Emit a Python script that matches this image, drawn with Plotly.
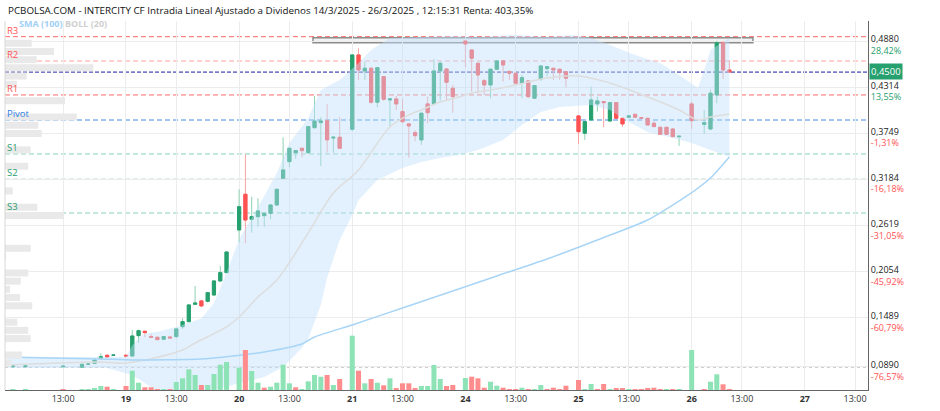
import plotly.graph_objects as go

# ---------------- data ----------------
# x = half-hour slot index (18 slots per session, 19/3 09:00 = 0)
cx = [-18, -16, -10, -7, -6, -5, -4, -3, -2,
      0, 1, 2, 3, 4, 5, 6, 7, 8, 9, 10, 11, 12, 13, 14, 15, 16,
      18, 19, 20, 21, 22, 23, 24, 25, 26, 27, 28, 29, 30, 31, 32, 33, 34,
      36, 37, 38, 39, 40, 41, 42, 43, 44, 45, 46, 47, 48, 49, 50, 51, 52,
      54, 55, 56, 57, 58, 59, 60, 61, 62, 63, 64, 65, 66, 67, 68, 69, 70,
      72, 73, 74, 75, 76, 77, 78, 79, 80, 81, 82, 83, 84, 85, 86, 87, 88,
      90, 92, 93, 94, 95, 96]

opens = [0.0890, 0.0890, 0.0890, 0.0884, 0.0920, 0.0932, 0.0989, 0.1030, 0.1031,
         0.1031, 0.1022, 0.1271, 0.1325, 0.1259, 0.1251, 0.1227, 0.1255, 0.1259, 0.1381, 0.1442, 0.1655, 0.1696, 0.1692, 0.1769, 0.1941, 0.2043,
         0.2566, 0.3003, 0.2697, 0.2729, 0.2741, 0.2770, 0.2872, 0.3199, 0.3403, 0.3513, 0.3567, 0.3513, 0.3819, 0.3881, 0.3905, 0.3692, 0.3702,
         0.3800, 0.4710, 0.4514, 0.4547, 0.4131, 0.4444, 0.4159, 0.4171, 0.4016, 0.3865, 0.3758, 0.3669, 0.4110, 0.4110, 0.4514, 0.4538, 0.4302,
         0.4880, 0.4771, 0.4608, 0.4395, 0.4343, 0.4535, 0.4637, 0.4509, 0.4486, 0.4363, 0.4392, 0.4180, 0.4416, 0.4543, 0.4547, 0.4535, 0.4505,
         0.3963, 0.3751, 0.3914, 0.4110, 0.4139, 0.3901, 0.4126, 0.3934, 0.3947, 0.3983, 0.3943, 0.3934, 0.3873, 0.3824, 0.3824, 0.3803, 0.3709,
         0.4110, 0.3860, 0.3803, 0.4220, 0.4861, 0.4526]
highs = [0.0905, 0.0905, 0.0900, 0.0925, 0.0930, 0.0975, 0.1055, 0.1045, 0.1034,
         0.1035, 0.1341, 0.1345, 0.1330, 0.1292, 0.1255, 0.1262, 0.1260, 0.1357, 0.1484, 0.1652, 0.1880, 0.1710, 0.1800, 0.1945, 0.2125, 0.2300,
         0.3064, 0.3493, 0.2974, 0.2954, 0.2782, 0.2875, 0.3068, 0.3701, 0.3570, 0.3540, 0.3570, 0.3840, 0.4208, 0.3947, 0.4106, 0.3710, 0.3947,
         0.4720, 0.4792, 0.4628, 0.4560, 0.4560, 0.4450, 0.4175, 0.4208, 0.4167, 0.3870, 0.3788, 0.4003, 0.4200, 0.4658, 0.4628, 0.4545, 0.4343,
         0.4880, 0.4780, 0.4615, 0.4416, 0.4545, 0.4645, 0.4650, 0.4515, 0.4490, 0.4465, 0.4400, 0.4340, 0.4580, 0.4570, 0.4550, 0.4540, 0.4510,
         0.3970, 0.3900, 0.4322, 0.4200, 0.4145, 0.4130, 0.4130, 0.3940, 0.3968, 0.3985, 0.3945, 0.3936, 0.3900, 0.3826, 0.3826, 0.3815, 0.3716,
         0.4138, 0.4036, 0.4285, 0.4880, 0.4880, 0.4640]
lows = [0.0885, 0.0885, 0.0885, 0.0880, 0.0915, 0.0930, 0.0985, 0.0997, 0.1029,
        0.1020, 0.1018, 0.1185, 0.1251, 0.1245, 0.1215, 0.1222, 0.1240, 0.1247, 0.1353, 0.1438, 0.1647, 0.1620, 0.1680, 0.1765, 0.1935, 0.2040,
        0.2415, 0.2403, 0.2533, 0.2606, 0.2606, 0.2697, 0.2865, 0.3190, 0.3334, 0.3440, 0.3457, 0.3500, 0.3810, 0.3350, 0.3513, 0.3513, 0.3560,
        0.3780, 0.4404, 0.4404, 0.4110, 0.4069, 0.4150, 0.3840, 0.4036, 0.3873, 0.3452, 0.3654, 0.3608, 0.3873, 0.4100, 0.4150, 0.4150, 0.4003,
        0.4560, 0.4261, 0.4241, 0.4220, 0.4180, 0.4530, 0.4383, 0.4404, 0.4363, 0.4180, 0.4180, 0.4175, 0.4392, 0.4445, 0.4404, 0.4404, 0.4314,
        0.3616, 0.3669, 0.3905, 0.4016, 0.3824, 0.3895, 0.3930, 0.3828, 0.3945, 0.3945, 0.3930, 0.3850, 0.3830, 0.3736, 0.3736, 0.3705, 0.3595,
        0.3803, 0.3742, 0.3790, 0.4118, 0.4416, 0.4490]
closes = [0.0900, 0.0900, 0.0897, 0.0920, 0.0922, 0.0973, 0.1013, 0.1010, 0.1033,
          0.1022, 0.1267, 0.1332, 0.1308, 0.1251, 0.1222, 0.1259, 0.1243, 0.1353, 0.1442, 0.1647, 0.1671, 0.1635, 0.1798, 0.1941, 0.2043, 0.2296,
          0.2851, 0.2688, 0.2729, 0.2799, 0.2770, 0.2872, 0.3064, 0.3301, 0.3567, 0.3538, 0.3538, 0.3832, 0.3901, 0.3901, 0.3670, 0.3702, 0.3567,
          0.4710, 0.4526, 0.4547, 0.4131, 0.4555, 0.4167, 0.4171, 0.4110, 0.3893, 0.3840, 0.3721, 0.3996, 0.4003, 0.4514, 0.4608, 0.4376, 0.4199,
          0.4845, 0.4670, 0.4465, 0.4343, 0.4535, 0.4637, 0.4588, 0.4486, 0.4363, 0.4432, 0.4199, 0.4334, 0.4575, 0.4567, 0.4526, 0.4493, 0.4425,
          0.3770, 0.3893, 0.4159, 0.4147, 0.4126, 0.4126, 0.3934, 0.3865, 0.3963, 0.3947, 0.3934, 0.3852, 0.3832, 0.3738, 0.3738, 0.3709, 0.3714,
          0.3905, 0.3880, 0.4241, 0.4861, 0.4526, 0.4500]
volumes = [1000, 1000, 500, 1000, 500, 1700, 4000, 3300, 1000,
           4000, 19300, 7300, 2700, 2700, 1000, 1000, 1000, 8000, 11700, 20700, 15000, 5000, 5000, 16000, 25300, 28000,
           22300, 40000, 19000, 7300, 2300, 3300, 7300, 25300, 6700, 2700, 1000, 8700, 15000, 13300, 15000, 5000, 11000,
           54300, 19300, 6700, 11000, 7300, 4700, 11700, 1700, 6700, 6700, 1700, 4000, 4000, 25000, 11000, 4000, 5000,
           12000, 13300, 11700, 2300, 8300, 4300, 2300, 1000, 1000, 2300, 1000, 1000, 5000, 1000, 2300, 1000, 4300,
           10000, 1000, 6000, 1000, 6000, 1000, 1500, 1500, 1000, 1000, 1000, 1500, 2300, 1000, 1000, 1000, 1000,
           40000, 1000, 8300, 15700, 5700, 1000]

# Bollinger (20) and SMA (100)
ub_x = [-19, -10, -2, 0, 1, 2, 3, 5, 8, 12, 14, 16, 18, 21, 24, 26, 29, 31, 34, 37,
        39, 42, 47, 52, 56, 62, 67, 71, 74, 77, 81, 85, 88, 91, 92, 93, 96]
ub = [0.1010, 0.1010, 0.1010, 0.1010, 0.1150, 0.1240, 0.1300, 0.1320, 0.1377, 0.1480,
      0.1671, 0.2039, 0.2455, 0.2845, 0.3264, 0.3632, 0.3938, 0.4281, 0.4404, 0.4612,
      0.4771, 0.4918, 0.4931, 0.4943, 0.4931, 0.4955, 0.4931, 0.4955, 0.4918, 0.4833,
      0.4710, 0.4612, 0.4465, 0.4306, 0.4526, 0.4771, 0.4918]
lb_x = [-19, -3, 1, 3, 5, 8, 12, 17, 22, 25, 28, 29, 31, 32, 34, 36, 37, 40, 44, 47,
        50, 53, 56, 60, 63, 66, 69, 74, 77, 80, 83, 87, 90, 93, 96]
lb = [0.0875, 0.0875, 0.0789, 0.0691, 0.0580, 0.0544, 0.0569, 0.0667, 0.0765, 0.0887,
      0.1120, 0.1230, 0.1647, 0.1980, 0.2443, 0.2750, 0.2933, 0.3179, 0.3326, 0.3399,
      0.3448, 0.3485, 0.3546, 0.3669, 0.3852, 0.4012, 0.4073, 0.4097, 0.4036, 0.3889,
      0.3767, 0.3693, 0.3632, 0.3546, 0.3460]
mb_x = [-19, -4, 0, 9, 11, 16, 18, 21, 24, 29, 33, 37, 42, 45, 47, 50, 53, 55, 58, 62,
        67, 72, 77, 83, 88, 91, 93, 96]
mb = [0.0912, 0.0948, 0.0936, 0.1095, 0.1181, 0.1377, 0.1500, 0.1745, 0.1953, 0.2529,
      0.3019, 0.3301, 0.3828, 0.3975, 0.4036, 0.4134, 0.4195, 0.4245, 0.4281, 0.4342,
      0.4428, 0.4453, 0.4367, 0.4195, 0.4036, 0.3914, 0.3950, 0.3987]
sma_x = [-19, -12, -4, 1, 12, 17, 22, 28, 30, 36, 44, 52, 59, 67, 75, 83, 89, 93, 96]
sma = [0.1010, 0.0997, 0.0985, 0.0973, 0.0985, 0.1022, 0.1071, 0.1169, 0.1255, 0.1402,
       0.1610, 0.1818, 0.2002, 0.2210, 0.2443, 0.2688, 0.2970, 0.3203, 0.3460]

# volume profile by price
vp_price = [0.4853, 0.4753, 0.4652, 0.4552, 0.4451, 0.4351, 0.4250, 0.4150, 0.4049, 0.3949,
            0.3848, 0.3748, 0.3647, 0.3547, 0.3446, 0.3346, 0.3245, 0.3145, 0.3044, 0.2944,
            0.2843, 0.2743, 0.2642, 0.2542, 0.2441, 0.2341, 0.2240, 0.2140, 0.2039, 0.1939,
            0.1838, 0.1738, 0.1637, 0.1537, 0.1436, 0.1336, 0.1235, 0.1135, 0.1034, 0.0934]
vp_vol = [26.7, 49, 31.7, 88.3, 21.7, 12, 0, 60, 0, 71.7,
          33.3, 36.7, 0, 25.7, 0, 23.3, 0, 0, 7.7, 0,
          32.3, 58.3, 0, 0, 0, 25.7, 1, 0, 23.3, 15.7,
          5, 15, 27.3, 0, 12.3, 23.3, 25.7, 0, 17, 6.7]

# pivot levels
levels = {"R3": 0.4934, "R2": 0.4636, "R1": 0.4220, "Pivot": 0.3913,
          "S1": 0.3497, "S2": 0.3186, "S3": 0.2774}
last_price = 0.4500
min_price = 0.0890
box_x = [29.75, 99.75]
box_y = [0.4861, 0.4922]

ytick_vals = [0.4880, 0.4314, 0.3749, 0.3184, 0.2619, 0.2054, 0.1489, 0.0890]
ytick_price = ["0,4880", "0,4314", "0,3749", "0,3184", "0,2619", "0,2054", "0,1489", "0,0890"]
ytick_pct = ["28,42%", "13,55%", "-1,31%", "-16,18%", "-31,05%", "-45,92%", "-60,79%", "-76,57%"]

xtick_vals = [-10, 0, 8, 18, 26, 36, 44, 54, 62, 72, 80, 90, 98, 108, 116]
xtick_text = ["13:00", "<b>19</b>", "13:00", "<b>20</b>", "13:00", "<b>21</b>", "13:00", "<b>24</b>",
              "13:00", "<b>25</b>", "13:00", "<b>26</b>", "13:00", "<b>27</b>", "13:00"]

title = "PCBOLSA.COM - INTERCITY CF Intradia Lineal Ajustado a Dividenos 14/3/2025 - 26/3/2025 , 12:15:31 Renta: 403,35%"

# ---------------- styles ----------------
GREEN = "#26a06e"
RED = "#ff5252"
FONT = "Open Sans"

fig = go.Figure()

fig.add_trace(go.Bar(x=vp_vol, y=vp_price, orientation="h", width=0.0086,
                     xaxis="x2", yaxis="y", marker=dict(color="#e9e9e9", line=dict(width=0)),
                     hoverinfo="skip"))

fig.add_trace(go.Scatter(x=ub_x + lb_x[::-1], y=ub + lb[::-1], fill="toself",
                         fillcolor="rgba(190,224,250,0.45)", mode="lines",
                         line=dict(width=0), hoverinfo="skip"))
fig.add_trace(go.Scatter(x=mb_x, y=mb, mode="lines", line=dict(color="#dddddd", width=1.5),
                         line_shape="spline", hoverinfo="skip"))
fig.add_trace(go.Scatter(x=sma_x, y=sma, mode="lines", line=dict(color="#a8d5f7", width=1.5),
                         line_shape="spline", line_smoothing=0.6, hoverinfo="skip"))

vcol = []
for i, cl in enumerate(closes):
    up = True if i == 0 else cl >= closes[i - 1]
    vcol.append("#8ee3b6" if up else "#ff8d8d")
fig.add_trace(go.Bar(x=cx, y=volumes, yaxis="y2", width=0.8,
                     marker=dict(color=vcol, line=dict(width=0)), hoverinfo="skip"))

fig.add_trace(go.Candlestick(x=cx, open=opens, high=highs, low=lows, close=closes,
                             increasing=dict(line=dict(color="#8fd1b3", width=1), fillcolor="#8fd1b3"),
                             decreasing=dict(line=dict(color="#f9a3a3", width=1), fillcolor="#f9a3a3"),
                             whiskerwidth=0, hoverinfo="skip"))
body_hi = [max(a, b) for a, b in zip(opens, closes)]
body_lo = [min(a, b) for a, b in zip(opens, closes)]
fig.add_trace(go.Candlestick(x=cx, open=opens, high=body_hi, low=body_lo, close=closes,
                             increasing=dict(line=dict(color=GREEN, width=1), fillcolor=GREEN),
                             decreasing=dict(line=dict(color=RED, width=1), fillcolor=RED),
                             whiskerwidth=0, hoverinfo="skip"))

level_style = {"R3": ("#ff6a6a", "#ff5555"), "R2": ("#ffa0a0", "#ff5555"), "R1": ("#ff6a6a", "#ff5555"),
               "Pivot": ("#3d8ae6", "#2f7de1"), "S1": ("#86d3b2", "#2a9d6f"),
               "S2": ("#3a9a70", "#2a9d6f"), "S3": ("#86d3b2", "#2a9d6f")}
shapes = []
annotations = []
for name, val in levels.items():
    lc, tc = level_style[name]
    shapes.append(dict(type="line", xref="paper", x0=0, x1=1, yref="y", y0=val, y1=val,
                       line=dict(color=lc, width=1, dash="5px,3px"), layer="below"))
    annotations.append(dict(xref="paper", x=0, xanchor="left", yref="y", y=val, yanchor="bottom",
                            yshift=-2, text=name, showarrow=False,
                            font=dict(family=FONT, size=9.5, color=tc)))
shapes.append(dict(type="line", xref="paper", x0=0, x1=1, yref="y", y0=last_price, y1=last_price,
                   line=dict(color="#1a1aa8", width=1, dash="4px,2px"), layer="below"))
shapes.append(dict(type="line", xref="paper", x0=0, x1=1, yref="y", y0=min_price, y1=min_price,
                   line=dict(color="#333333", width=1, dash="dot"), layer="below"))
shapes.append(dict(type="rect", xref="x", x0=box_x[0], x1=box_x[1], yref="y", y0=box_y[0], y1=box_y[1],
                   line=dict(color="#8c8c8c", width=1.5), fillcolor="rgba(235,235,235,0.7)", layer="below"))
shapes.append(dict(type="line", xref="paper", x0=0, x1=0, yref="paper", y0=0, y1=1,
                   line=dict(color="#d8d8d8", width=1)))

annotations.append(dict(xref="paper", x=1, xanchor="left", xshift=1, yref="y", y=last_price,
                        yshift=1, text="0,4500", showarrow=False, bgcolor=GREEN, borderpad=1,
                        font=dict(family=FONT, size=9.5, color="white")))
annotations.append(dict(xref="paper", x=0, xanchor="left", xshift=1, yref="paper", y=1,
                        yanchor="middle", yshift=11, text=title, showarrow=False,
                        font=dict(family=FONT, size=9.8, color="#111111")))
annotations.append(dict(xref="paper", x=0, xanchor="left", xshift=12, yref="paper", y=1,
                        yanchor="middle", yshift=-2, text="<b>SMA (100)</b>", showarrow=False,
                        font=dict(family=FONT, size=9, color="#9fd0f5")))
annotations.append(dict(xref="paper", x=0, xanchor="left", xshift=58, yref="paper", y=1,
                        yanchor="middle", yshift=-2, text="<b>BOLL (20)</b>", showarrow=False,
                        font=dict(family=FONT, size=9, color="#cfcfcf")))

yticktext = []
for p, pc in zip(ytick_price, ytick_pct):
    col = GREEN if not pc.startswith("-") else RED
    yticktext.append(f"{p}<br><span style='color:{col}'>{pc}</span>")

fig.update_layout(
    width=940, height=411,
    margin=dict(l=5, r=72, t=21, b=21, autoexpand=False),
    paper_bgcolor="white", plot_bgcolor="white",
    showlegend=False, boxgap=0.28, bargap=0.2,
    shapes=shapes, annotations=annotations,
    xaxis=dict(range=[-19.25, 118.06], tickvals=xtick_vals, ticktext=xtick_text,
               showgrid=True, gridcolor="#ececec", gridwidth=1, showline=True,
               linecolor="#666666", linewidth=1, ticks="", zeroline=False,
               tickfont=dict(family=FONT, size=9, color="#333333"),
               rangeslider=dict(visible=False), fixedrange=True),
    xaxis2=dict(overlaying="x", anchor="y", range=[0, 863], visible=False, fixedrange=True),
    yaxis=dict(side="right", range=[0.0605, 0.5126], tickvals=ytick_vals, ticktext=yticktext,
               showgrid=True, gridcolor="#ececec", showline=True, linecolor="#666666",
               linewidth=1, ticks="", zeroline=False, ticklabelshift=4,
               tickfont=dict(family=FONT, size=9, color="#222222"), fixedrange=True),
    yaxis2=dict(overlaying="y", anchor="x", range=[0, 369000], visible=False, fixedrange=True),
)

fig.write_html("out.html")
